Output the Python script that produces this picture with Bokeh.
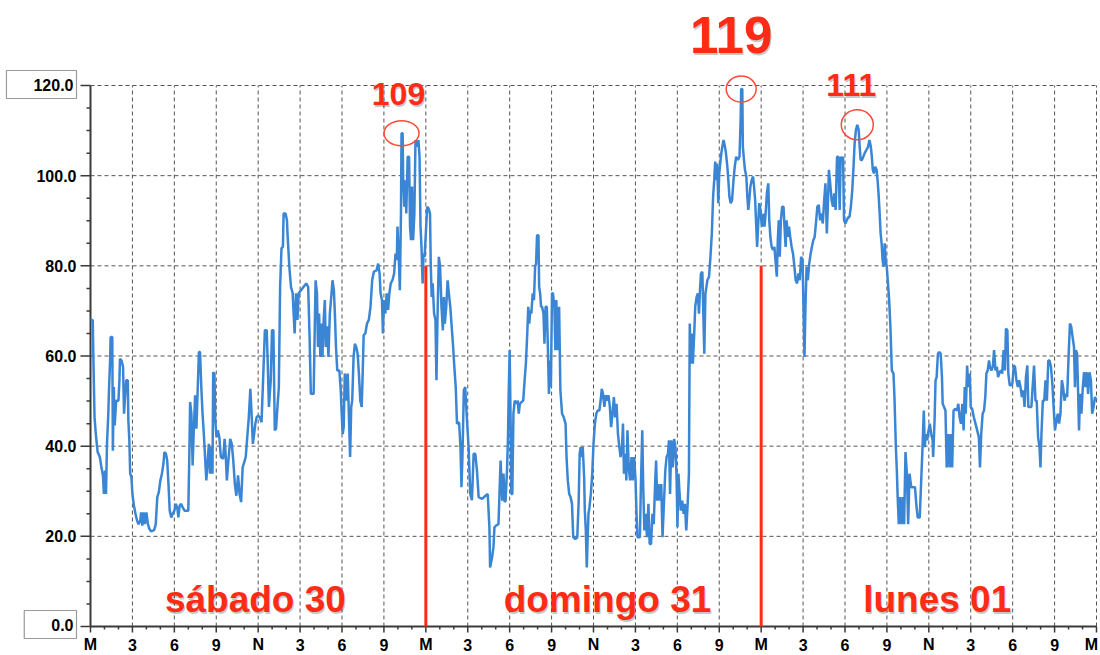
import numpy as np
from bokeh.plotting import figure
from bokeh.models import Range1d, ColumnDataSource
from bokeh.embed import file_html
from bokeh.resources import INLINE
from bokeh.core.properties import value

# (hour since Saturday 00:00, value) readings, one list per day
sat = [
    (0, 68), (0.16, 68), (0.22, 57.2), (0.29, 46.4), (0.38, 42.7), (0.51, 38.7), (0.67, 37.6), (0.78, 35.3),
    (0.89, 33.5), (0.96, 29.4), (1.04, 34.6), (1.11, 29.4), (1.18, 40.5), (1.27, 46.8), (1.33, 53.1), (1.4, 58.7),
    (1.44, 64.2), (1.56, 64.2), (1.6, 39), (1.67, 53.1), (1.73, 44.6), (1.84, 50.1), (2.0, 50.1), (2.07, 54.6),
    (2.11, 59.4), (2.22, 59), (2.33, 57.6), (2.4, 47.2), (2.49, 51.6), (2.56, 54.6), (2.67, 54.6), (2.71, 45.7),
    (2.78, 41.3), (2.84, 33.9), (2.93, 33.1), (3.0, 29.4), (3.11, 26.8), (3.22, 25), (3.33, 23.5), (3.44, 22.7),
    (3.56, 23.5), (3.62, 25.3), (3.71, 22.4), (3.8, 25.3), (3.89, 22.7), (4.0, 25.3), (4.11, 22.7), (4.22, 21.6),
    (4.33, 21.1), (4.56, 21.4), (4.67, 22.7), (4.78, 28.7), (4.89, 29.8), (5.0, 32.4), (5.11, 33.9), (5.22, 36.1),
    (5.29, 38.7), (5.4, 38.3), (5.49, 36.8), (5.58, 31.6), (5.67, 25.7), (5.78, 24.2), (5.89, 25), (6.0, 25.7),
    (6.11, 27.2), (6.22, 26.1), (6.29, 24.2), (6.38, 26.8), (6.49, 27.2), (6.6, 26.4), (6.73, 25.7), (7.0, 25.7),
    (7.07, 37.6), (7.13, 49.8), (7.22, 47.2), (7.31, 35.7), (7.4, 44.2), (7.49, 51.3), (7.58, 43.9), (7.67, 52.4),
    (7.76, 60.9), (7.84, 60.9), (7.93, 53.1), (8.02, 47.2), (8.11, 42.7), (8.2, 37.6), (8.29, 32.4), (8.38, 36.1),
    (8.47, 40.5), (8.56, 33.9), (8.64, 39.8), (8.73, 33.9), (8.78, 56.4), (8.87, 56.1), (8.93, 45.7), (9.02, 42),
    (9.11, 43.5), (9.22, 42), (9.33, 37.6), (9.49, 37.2), (9.6, 41.6), (9.69, 37.2), (9.76, 32.4), (9.89, 37.6),
    (10.0, 41.6), (10.11, 40.5), (10.22, 36.8), (10.33, 31.6), (10.44, 29), (10.56, 33.5), (10.67, 29.4), (10.78, 27.6),
    (10.89, 35.3), (11.0, 36.4), (11.11, 37.6), (11.22, 42), (11.33, 46.4), (11.44, 52.7), (11.53, 47.2), (11.62, 40.5),
    (11.71, 42.7), (11.8, 45), (11.89, 46.4), (12.0, 46.8), (12.12, 46.4), (12.24, 45.3), (12.36, 55.3), (12.48, 65.7),
    (12.61, 65.7), (12.68, 59), (12.77, 48.7), (12.9, 54.6), (12.99, 65.7), (13.09, 65.7), (13.19, 43.5), (13.28, 43.9),
    (13.38, 48.7), (13.48, 53.1), (13.57, 75.3), (13.67, 83.9), (13.77, 84.2), (13.82, 91.6), (13.96, 91.6), (14.06, 90.1),
    (14.1, 87.2), (14.23, 79.8), (14.35, 75.3), (14.47, 73.9), (14.54, 69.4), (14.61, 65), (14.71, 73.9), (14.81, 68),
    (14.9, 73.9), (15.07, 74.6), (15.24, 75.3), (15.44, 76.1), (15.58, 75.3), (15.68, 64.2), (15.77, 51.6), (15.97, 51.6),
    (16.04, 64.2), (16.11, 76.8), (16.21, 73.9), (16.28, 62), (16.36, 69.4), (16.45, 59.8), (16.53, 67.2), (16.6, 59.8),
    (16.69, 68), (16.77, 72.4), (16.84, 62), (16.94, 66.6), (17.03, 59.8), (17.13, 69.4), (17.25, 73.9), (17.32, 76.8),
    (17.42, 74.6), (17.49, 69.4), (17.57, 62), (17.66, 56.8), (17.81, 56.8), (17.91, 52.4), (17.98, 47.2), (18.05, 42.7),
    (18.12, 44.2), (18.2, 56.1), (18.29, 54.6), (18.34, 50.1), (18.41, 56.1), (18.49, 47.2), (18.58, 37.6), (18.66, 48.7),
    (18.73, 50.1), (18.83, 59.8), (18.92, 62.7), (19.02, 62), (19.12, 60.5), (19.21, 56.1), (19.31, 50.1), (19.41, 48.7),
    (19.48, 56.1), (19.55, 64.6), (19.67, 65), (19.79, 67.2), (19.92, 68), (20.04, 70.9), (20.16, 76.8), (20.28, 78.7),
    (20.47, 79), (20.59, 80.5), (20.69, 78.3), (20.76, 73.9), (20.86, 72.4), (20.93, 65), (21.0, 72.4), (21.1, 69.4),
    (21.2, 73.9), (21.3, 70.2), (21.39, 73.9), (21.49, 76.1), (21.61, 76.8), (21.73, 78.3), (21.83, 82.7), (21.92, 81.3),
    (21.97, 88.7), (22.07, 81.3), (22.14, 74.6), (22.22, 91.6), (22.26, 109.4), (22.34, 109.4), (22.38, 99), (22.46, 93.1),
    (22.53, 99), (22.6, 91.6), (22.7, 104.2), (22.8, 104.2), (22.87, 88.7), (22.94, 85.7), (23.01, 97.6), (23.09, 85.7),
    (23.18, 91.6), (23.26, 107.9), (23.38, 106.4), (23.47, 107.9), (23.55, 104.2), (23.62, 88.7), (23.69, 84.2), (23.77, 76.1),
    (23.84, 82.7), (23.91, 82),
]

sun = [
    (24.01, 87.9), (24.1, 93.1), (24.2, 92.7), (24.3, 91.6), (24.35, 80.5), (24.42, 73.1), (24.49, 76.1), (24.59, 69.4),
    (24.69, 68), (24.76, 54.6), (24.83, 67.7), (24.93, 82), (25.02, 79.8), (25.12, 70.9), (25.22, 65.7), (25.29, 73.1),
    (25.36, 67.2), (25.46, 70.9), (25.56, 76.8), (25.65, 73.9), (25.75, 70.9), (25.85, 66.5), (25.94, 62.7), (26.04, 57.6),
    (26.14, 53.1), (26.23, 45), (26.38, 45.3), (26.48, 39.8), (26.55, 30.9), (26.62, 37.6), (26.72, 52.4), (26.82, 53.1),
    (26.89, 48.7), (26.96, 45), (27.06, 39.8), (27.18, 29.4), (27.3, 28), (27.42, 38.3), (27.54, 38.3), (27.66, 34.6),
    (27.78, 28.7), (28.03, 28.3), (28.27, 29), (28.43, 29.4), (28.55, 22), (28.6, 13.1), (28.74, 15.3), (28.84, 17.6),
    (28.91, 22), (29.03, 22.4), (29.2, 22.7), (29.27, 29.4), (29.35, 36.8), (29.42, 31.6), (29.47, 27.9), (29.56, 33.9),
    (29.64, 27.6), (29.71, 27.9), (29.81, 34.6), (29.88, 42), (29.93, 51.6), (30.0, 61.3), (30.07, 45), (30.12, 29.4),
    (30.19, 29.4), (30.27, 47.2), (30.36, 50.1), (30.48, 49.4), (30.58, 50.1), (30.65, 47.2), (30.73, 49.4), (30.85, 49.8),
    (30.97, 50.1), (31.07, 54.6), (31.16, 58.3), (31.26, 65), (31.33, 70.9), (31.4, 67.2), (31.48, 70.1), (31.55, 69.4),
    (31.65, 73.9), (31.74, 72.4), (31.82, 79.8), (31.89, 80.5), (31.96, 86.8), (32.06, 86.8), (32.11, 75.3), (32.18, 73.9),
    (32.25, 70.9), (32.32, 70.9), (32.42, 69.4), (32.49, 62.7), (32.57, 70.9), (32.66, 70.9), (32.74, 61.3), (32.81, 51.6),
    (32.88, 59), (32.95, 53.1), (33.03, 73.9), (33.1, 73.9), (33.2, 70.9), (33.27, 61.3), (33.34, 72.4), (33.44, 61.3),
    (33.54, 70.9), (33.63, 52.4), (33.75, 47.2), (33.87, 46.4), (34.0, 45), (34.07, 37.6), (34.16, 32.4), (34.26, 29.4),
    (34.36, 28.7), (34.46, 27.2), (34.55, 19.8), (34.7, 19.4), (34.84, 19.8), (34.94, 27.9), (35.01, 38.3), (35.08, 39.8),
    (35.16, 37.6), (35.23, 39.8), (35.33, 33.1), (35.38, 25.7), (35.45, 21.3), (35.52, 13.1), (35.57, 18.3), (35.64, 25),
    (35.71, 26.4), (35.81, 29.4), (35.91, 33.9), (36.0, 40.5), (36.1, 45), (36.2, 47.2), (36.3, 47.9), (36.42, 47.9),
    (36.54, 50.9), (36.59, 52.7), (36.68, 51.6), (36.78, 48.7), (36.88, 51.3), (36.97, 50.1), (37.07, 51.3), (37.17, 48.7),
    (37.26, 44.2), (37.36, 47.2), (37.46, 50.9), (37.55, 46.4), (37.65, 49.4), (37.75, 42.7), (37.85, 39.8), (37.94, 37.6),
    (38.04, 39.8), (38.11, 45), (38.18, 33.9), (38.28, 38.3), (38.35, 32.4), (38.43, 43.5), (38.52, 35.3), (38.62, 32.4),
    (38.72, 37.6), (38.81, 32.4), (38.91, 37.6), (39.01, 32.4), (39.08, 25), (39.15, 19.8), (39.32, 19.8), (39.39, 30.9),
    (39.49, 43.5), (39.56, 30.9), (39.64, 21.3), (39.73, 25), (39.83, 19.8), (39.93, 27.2), (40.02, 18.3), (40.12, 18.3),
    (40.22, 25), (40.31, 22.7), (40.41, 31.6), (40.48, 36.8), (40.56, 27.9), (40.65, 31.6), (40.75, 27.9), (40.85, 31.6),
    (40.94, 19.8), (41.04, 27.2), (41.14, 34.6), (41.23, 37.6), (41.33, 38.3), (41.4, 41.3), (41.48, 29.4), (41.57, 41.3),
    (41.67, 35.3), (41.77, 41.6), (41.86, 39.8), (41.94, 33.9), (42.01, 22), (42.08, 33.9), (42.16, 29.4), (42.25, 25.7),
    (42.35, 27.9), (42.45, 25), (42.54, 27.2), (42.64, 21.3), (42.74, 27.2), (42.83, 33.9), (42.89, 67.2), (42.97, 58.3),
    (43.04, 65), (43.11, 58.3), (43.21, 65), (43.28, 70.9), (43.38, 73.1), (43.47, 73.9), (43.55, 69.4), (43.62, 74.6),
    (43.69, 78.3), (43.79, 78.7), (43.86, 69.4), (43.93, 60.5), (44.01, 73.9), (44.08, 75.3), (44.15, 76.8), (44.27, 77.6),
    (44.37, 82), (44.47, 87.2), (44.56, 95.3), (44.64, 99), (44.71, 103.1), (44.78, 99), (44.85, 102.7), (44.93, 93.9),
    (45.0, 100.5), (45.07, 102.7), (45.15, 105), (45.22, 106.4), (45.31, 107.9), (45.41, 106.4), (45.48, 105), (45.58, 102),
    (45.65, 99), (45.73, 95.3), (45.82, 93.9), (45.92, 94.6), (46.02, 99), (46.11, 102), (46.21, 104.2), (46.33, 103.5),
    (46.45, 104.2), (46.53, 112.4), (46.57, 119.2), (46.65, 119.2), (46.69, 106.4), (46.77, 103.5), (46.84, 101.3), (46.94, 99.8),
    (47.01, 95.3), (47.08, 92.4), (47.15, 94.6), (47.23, 97.6), (47.32, 99), (47.42, 99.8), (47.49, 97.6), (47.57, 94.6),
    (47.64, 89.4), (47.71, 84.2), (47.78, 88.7), (47.86, 93.9), (47.95, 92.4),
]

mon = [
    (48.03, 89.4), (48.1, 88.7), (48.17, 91.6), (48.24, 88.7), (48.32, 91.6), (48.41, 96.1), (48.51, 98.3), (48.58, 90.1),
    (48.66, 86.4), (48.75, 84.2), (48.85, 83.5), (48.95, 84.2), (49.02, 81.3), (49.12, 77.6), (49.19, 85.7), (49.26, 90.1),
    (49.33, 82), (49.41, 90.1), (49.5, 93.1), (49.6, 93.1), (49.67, 88.7), (49.75, 84.2), (49.82, 90.1), (49.92, 86.4),
    (49.99, 88.7), (50.08, 86.4), (50.18, 84.2), (50.28, 82.7), (50.38, 79.8), (50.47, 76.8), (50.57, 76.1), (50.67, 78.3),
    (50.76, 76.8), (50.86, 82), (50.96, 81.3), (51.03, 70.9), (51.1, 59.8), (51.17, 70.9), (51.25, 79.8), (51.34, 76.8),
    (51.44, 80.5), (51.54, 82.7), (51.63, 84.2), (51.73, 85.7), (51.83, 86.4), (51.92, 89.4), (52.02, 93.1), (52.12, 93.5),
    (52.22, 90.1), (52.31, 91.6), (52.41, 89.4), (52.51, 94.6), (52.6, 98.3), (52.7, 87.2), (52.77, 93.1), (52.85, 101.3),
    (52.94, 98.3), (53.04, 94.6), (53.14, 93.1), (53.23, 96.1), (53.33, 92.4), (53.43, 104.2), (53.52, 104.2), (53.62, 92.4),
    (53.69, 104.2), (53.77, 103.5), (53.86, 104.2), (53.93, 90.1), (54.03, 89.4), (54.13, 90.1), (54.23, 90.8), (54.32, 90.8),
    (54.42, 93.1), (54.52, 96.8), (54.61, 102), (54.69, 107.2), (54.78, 110.1), (54.88, 111.3), (54.98, 110.1), (55.05, 106.4),
    (55.12, 103.5), (55.22, 103.5), (55.31, 104.2), (55.41, 105), (55.53, 105.7), (55.65, 106.4), (55.75, 107.9), (55.85, 106.4),
    (55.92, 104.2), (55.99, 101.3), (56.07, 100.5), (56.16, 102), (56.26, 101.3), (56.33, 99), (56.4, 96.1), (56.48, 91.6),
    (56.55, 87.2), (56.62, 85), (56.69, 81.3), (56.77, 79.8), (56.84, 85), (56.91, 81.3), (56.99, 79.8), (57.06, 76.8),
    (57.16, 72.4), (57.25, 66.5), (57.35, 56.8), (57.47, 56.1), (57.54, 50.9), (57.64, 39.8), (57.71, 34.6), (57.77, 28.7),
    (57.85, 22.7), (57.94, 28.7), (58.04, 22.7), (58.14, 28.7), (58.23, 22.7), (58.33, 38.7), (58.43, 33.9), (58.52, 22.7),
    (58.62, 33.9), (58.74, 30.9), (58.86, 30.9), (59.01, 30.9), (59.1, 27.2), (59.2, 24.2), (59.35, 24.2), (59.44, 31.3),
    (59.54, 39), (59.64, 47.9), (59.71, 39.8), (59.78, 42.7), (59.88, 41.3), (59.98, 43.5), (60.07, 45), (60.17, 42.7),
    (60.27, 41.3), (60.31, 37.6), (60.41, 45.7), (60.48, 54.6), (60.56, 55.3), (60.65, 60.5), (60.75, 60.9), (60.85, 60.5),
    (60.94, 55.3), (60.99, 49.4), (61.09, 48.7), (61.19, 47.9), (61.28, 35.3), (61.38, 42.7), (61.48, 35.3), (61.57, 42.7),
    (61.67, 35.3), (61.77, 47.9), (61.89, 48.3), (62.01, 47.9), (62.11, 49.4), (62.2, 46.4), (62.3, 45), (62.4, 49.4),
    (62.49, 43.5), (62.57, 53.1), (62.64, 47.2), (62.74, 57.9), (62.83, 53.1), (62.93, 56.1), (63.0, 48.7), (63.1, 48.3),
    (63.22, 46.4), (63.34, 45), (63.46, 43.5), (63.58, 42), (63.66, 35.3), (63.75, 42.7), (63.85, 47.2), (63.95, 47.9),
    (64.04, 50.9), (64.12, 56.1), (64.21, 56.8), (64.31, 59), (64.38, 57.6), (64.48, 56.8), (64.58, 57.6), (64.67, 61.3),
    (64.77, 56.8), (64.87, 57.6), (64.96, 55.3), (65.06, 56.4), (65.16, 56.8), (65.25, 56.1), (65.35, 61.3), (65.45, 56.8),
    (65.52, 66.1), (65.62, 65.7), (65.69, 56.1), (65.79, 53.5), (65.88, 53.5), (65.98, 53.9), (66.08, 57.9), (66.17, 57.6),
    (66.27, 54.6), (66.37, 53.1), (66.46, 54.6), (66.56, 53.1), (66.66, 50.9), (66.76, 52.4), (66.85, 48.7), (66.95, 55.3),
    (67.05, 57.9), (67.12, 48.7), (67.22, 48.7), (67.34, 48.7), (67.43, 53.1), (67.53, 57.9), (67.63, 50.1), (67.72, 50.1),
    (67.82, 42), (67.92, 39.8), (67.99, 35.3), (68.06, 42.7), (68.16, 50.1), (68.26, 50.1), (68.35, 54.6), (68.45, 50.1),
    (68.55, 59), (68.64, 59), (68.74, 57.6), (68.84, 53.9), (68.93, 48.7), (69.03, 43.5), (69.13, 45.7), (69.23, 47.2),
    (69.32, 45), (69.42, 47.2), (69.52, 54.6), (69.61, 53.1), (69.71, 50.1), (69.81, 51.6), (69.9, 50.9), (70.0, 59.8),
    (70.1, 67.2), (70.19, 66.5), (70.29, 64.2), (70.39, 62), (70.46, 53.1), (70.53, 61.3), (70.61, 60.5), (70.68, 52.4),
    (70.75, 43.5), (70.82, 51.6), (70.92, 47.2), (71.02, 53.1), (71.11, 56.4), (71.21, 53.1), (71.31, 56.4), (71.4, 51.6),
    (71.5, 56.4), (71.6, 54.6), (71.69, 47.2), (71.79, 48.7), (71.89, 50.9), (72.0, 50.1),
]

tick_hours = list(range(0, 73, 3))
tick_labels = ["M", "3", "6", "9", "N", "3", "6", "9"] * 3 + ["M"]
minor_hours = [h for h in range(0, 73) if h % 3]
y_ticks = [0, 20, 40, 60, 80, 100, 120]
y_minor = [v for v in range(0, 121, 5) if v % 20]
day_names = ["sábado 30", "domingo 31", "lunes 01"]
day_label_x = [11.8, 37.0, 60.6]
day_splits = [24, 48]
split_top = 80
peak_windows = [(20, 26), (44, 50), (52, 57)]

readings = sat + sun + mon
hours = np.array([r[0] for r in readings])
vals = np.array([r[1] for r in readings])

RED = "#ff2b16"
BLUE = "#3a86d4"
GRID = "#555555"
AX = "#3a3a3a"
FONT = "Liberation Sans"

# layout: the frame covers the whole canvas; the axes sit inside it
W, H = 1100, 655
AXIS_LEFT_PX, AXIS_RIGHT_PX, AXIS_BOTTOM_PX, AXIS_TOP_PX = 90, 1096, 626, 85
px_per_h = (AXIS_RIGHT_PX - AXIS_LEFT_PX) / 72.0
px_per_v = (AXIS_BOTTOM_PX - AXIS_TOP_PX) / 120.0
x_rng = Range1d(-AXIS_LEFT_PX / px_per_h, 72 + (W - AXIS_RIGHT_PX) / px_per_h)
y_rng = Range1d(-(H - AXIS_BOTTOM_PX) / px_per_v, AXIS_BOTTOM_PX / px_per_v)

p = figure(width=W, height=H, x_range=x_rng, y_range=y_rng,
           output_backend="svg", toolbar_location=None,
           x_axis_location=None, y_axis_location=None,
           min_border_left=0, min_border_right=0, min_border_top=0, min_border_bottom=0)
p.outline_line_color = None
p.background_fill_color = "white"
p.border_fill_color = "white"
p.grid.visible = False

txt = dict(text_font=value(FONT), text_font_style="bold", text_font_size="16px", text_color="black")

# grid
p.segment(x0=0, y0=y_ticks[1:], x1=72, y1=y_ticks[1:], line_color=GRID, line_dash="4 3", line_width=1)
p.segment(x0=tick_hours[1:], y0=0, x1=tick_hours[1:], y1=y_ticks[-1],
          line_color=GRID, line_dash="4 3", line_width=1)

# time axis
p.segment(x0=0, y0=0, x1=72, y1=0, line_color=AX, line_width=2)
p.ray(x=tick_hours, y=0, length=6, length_units="screen", angle=-np.pi / 2, line_color=AX, line_width=1.5)
p.ray(x=minor_hours, y=0, length=3, length_units="screen", angle=-np.pi / 2, line_color=AX, line_width=1.5)
tick_dx = [0] * (len(tick_hours) - 1) + [-5]
p.text(x=tick_hours, y=0, text=tick_labels, x_offset=tick_dx, y_offset=18,
       text_align="center", text_baseline="middle", **txt)

# value axis
p.segment(x0=0, y0=y_ticks[0], x1=0, y1=y_ticks[-1], line_color=AX, line_width=2)
p.ray(x=0, y=y_ticks, length=10, length_units="screen", angle=np.pi, line_color=AX, line_width=1.5)
p.ray(x=0, y=y_minor, length=4, length_units="screen", angle=np.pi, line_color=AX, line_width=1.5)
p.text(x=0, y=y_ticks[1:-1], text=[f"{v:.1f}" for v in y_ticks[1:-1]], x_offset=-14,
       text_align="right", text_baseline="middle", **txt)
ends = ColumnDataSource(dict(y=[y_ticks[0], y_ticks[-1]],
                             text=[f"{y_ticks[0]:.1f}", f"{y_ticks[-1]:.1f}"],
                             dy=[-2, -1]))
p.text(x=0, y="y", text="text", source=ends, x_offset=-14, y_offset="dy",
       text_align="right", text_baseline="middle",
       border_line_color="#9a9a9a", border_line_width=1.2, background_fill_color="white",
       padding=dict(left=27, right=3, top=8, bottom=8), **txt)

# series
p.line(hours, vals, line_color=BLUE, line_width=2.5)

# day separators
p.segment(x0=day_splits, y0=0, x1=day_splits, y1=split_top, line_color=RED, line_width=3)

# peaks
peaks_x, peaks_y = [], []
for lo, hi in peak_windows:
    m = (hours >= lo) & (hours <= hi)
    idx = np.flatnonzero(m)[np.argmax(vals[m])]
    peaks_x.append(hours[idx])
    peaks_y.append(vals[idx])

p.ellipse(x=peaks_x, y=peaks_y, width=[35, 30, 32], height=[25, 26, 30],
          width_units="screen", height_units="screen",
          fill_color=None, line_color="#ff4a3a", line_width=1.5)

peak_src = ColumnDataSource(dict(
    x=peaks_x, y=peaks_y, text=[str(int(round(v))) for v in peaks_y],
    size=["32px", "51px", "32px"], dx=[-3, -10, -6], dy=[-39, -54, -40],
    sdx=[-2, -9, -5], sdy=[-37, -52, -38]))
p.text(x="x", y="y", text="text", source=peak_src, x_offset="sdx", y_offset="sdy",
       text_font=value(FONT), text_font_style="bold", text_font_size="size",
       text_align="center", text_baseline="middle", text_color="#000000", text_alpha=0.22)
p.text(x="x", y="y", text="text", source=peak_src, x_offset="dx", y_offset="dy",
       text_font=value(FONT), text_font_style="bold", text_font_size="size",
       text_align="center", text_baseline="middle", text_color=RED)

# day names
day_y = [4] * len(day_names)
p.text(x=day_label_x, y=day_y, text=day_names, x_offset=1, y_offset=-7,
       text_font=value(FONT), text_font_style="bold", text_font_size="37px",
       text_align="center", text_baseline="middle", text_color="#000000", text_alpha=0.22)
p.text(x=day_label_x, y=day_y, text=day_names, y_offset=-9,
       text_font=value(FONT), text_font_style="bold", text_font_size="37px",
       text_align="center", text_baseline="middle", text_color=RED)

open("out.html", "w").write(file_html(p, INLINE))
